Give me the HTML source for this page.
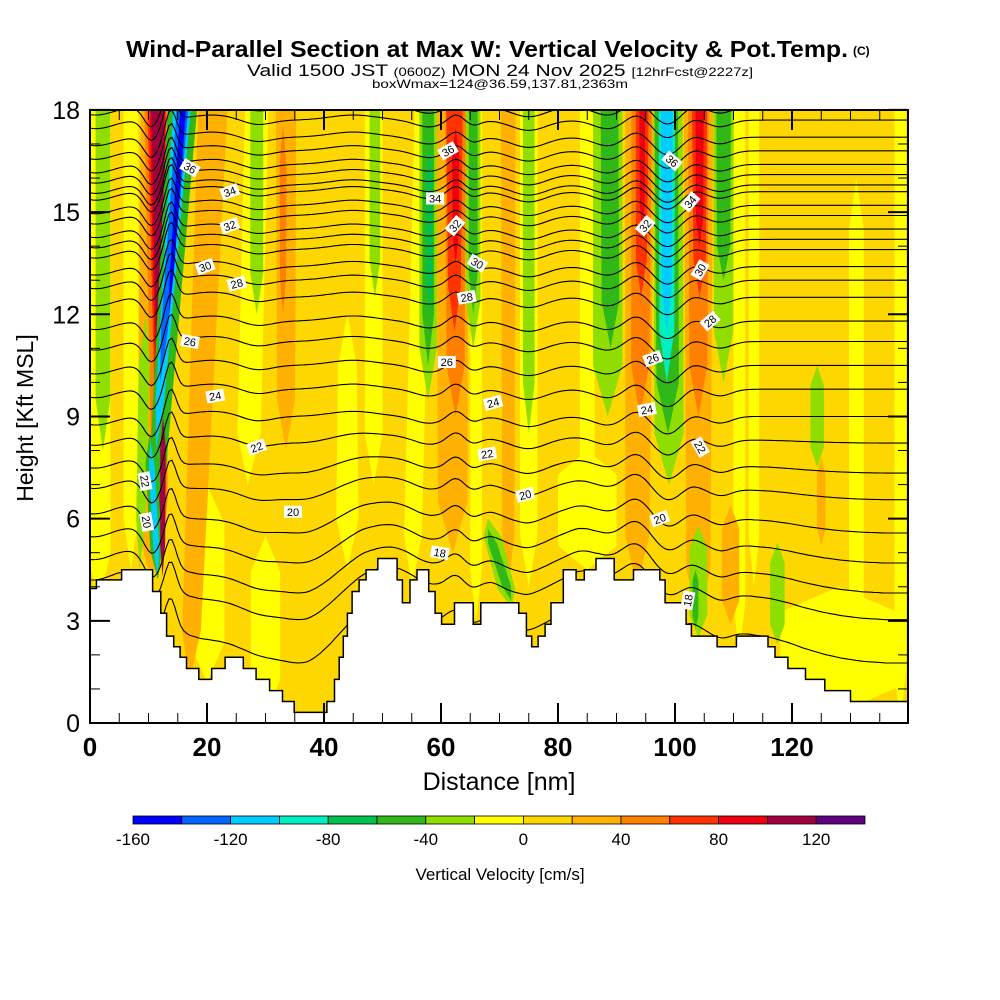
<!DOCTYPE html>
<html><head><meta charset="utf-8"><style>
html,body{margin:0;padding:0;background:#fff;}
svg{display:block;font-family:"Liberation Sans",sans-serif;}
</style></head><body>
<svg id="chart" width="1000" height="1000" viewBox="0 0 1000 1000" xmlns="http://www.w3.org/2000/svg">
<defs><clipPath id="plotclip"><rect x="90" y="110" width="818" height="613"/></clipPath></defs>
<g>
<text x="126" y="57" font-size="23" font-weight="bold" textLength="722" lengthAdjust="spacingAndGlyphs">Wind-Parallel Section at Max W: Vertical Velocity &amp; Pot.Temp.</text>
<text x="853" y="55" font-size="12" font-weight="bold">(C)</text>
<text x="247" y="76" font-size="17" textLength="506" lengthAdjust="spacingAndGlyphs">Valid 1500 JST <tspan font-size="12">(0600Z)</tspan> MON 24 Nov 2025 <tspan font-size="12">[12hrFcst@2227z]</tspan></text>
<text x="372" y="88" font-size="12" textLength="256" lengthAdjust="spacingAndGlyphs">boxWmax=124@36.59,137.81,2363m</text>
</g>
<g id="plot" clip-path="url(#plotclip)"></g>
<g id="axes"></g>
<g id="cbar"></g>
<text x="499" y="790" font-size="25" text-anchor="middle">Distance [nm]</text>
<text transform="translate(33,418) rotate(-90)" font-size="23" text-anchor="middle">Height [Kft MSL]</text>
<text x="500" y="880" font-size="17" text-anchor="middle">Vertical Velocity [cm/s]</text>
</svg>
<script>
// ---- data ----
const binEdges = [-160,-140,-120,-100,-80,-60,-40,-20,0,20,40,60,80,100,120,140];
const binColors = ["#0000ff","#0066ff","#00ccff","#00eec0","#00c050","#30b818","#90dd00","#ffff00","#ffd700","#ffb000","#ff8000","#ff3300","#ee0010","#a00040","#600080"];
const cbarTickValues = [-160,-120,-80,-40,0,40,80,120];
const xTickValues = [0,20,40,60,80,100,120];
const yTickValues = [0,3,6,9,12,15,18];
const backgroundW = 10;
// w bands: [bottomCenterNm, topCenterNm, bottomWidthNm, topWidthNm, bottomKft, topKft, w cm/s]
const wBands = [
 [1.5,1.5,4,4,3.5,18,-10],[7,7,2.5,2.5,4.5,18,-10],[27,28.5,4,4,7,18,-10],[20,20,6,6,1.2,7,-10],
 [30,30,5,5,0.2,5.5,-10],[44,44,4,3,4.5,12,-10],[48.5,48.5,3,3,7,18,-10],[55,57,3,3,4,18,-10],
 [66,66,2,2,3,18,-10],[75,75,3,3,4,18,-10],[85,85,2.5,2.5,5,18,-10],[111,111,2,2,2,18,-10],
 [113.5,113.5,1.8,1.8,4,18,-10],[131,131,2.5,2.5,0,16,-10],[138.5,138.5,2,2,0,18,-10],[128,128,20,20,0.3,4,-10],[85,85,10,10,4.5,8,-10],
 [10.5,11.2,5,5,4.2,18,30],[17,21,3,5,1.2,18,30],[33.5,33.5,3,3.5,8,18,30],[62,62,5,5.5,5,18,30],
 [71.5,71.5,2,2.5,4,18,30],[93.5,94,4,5,4,18,30],[104,104,4,5,3,18,30],[109.5,109.5,3,3,2.9,6.4,30],[125,125,1.5,1.5,5.2,7.8,30],
 [12,11.3,2.5,4,5,18,50],[62.5,62.5,3,3.5,9,18,50],[94,94.3,3,3.5,9,18,50],[104,104,3,3.5,9,18,50],[33,33,1,1.2,12,17.5,50],
 [12.3,11.4,1.8,3.2,7,18,70],[62.3,62.3,2,2.8,11.5,18,70],[94.2,94.4,1.8,2.2,12.5,18,70],[104.2,104.2,2,2.6,12.5,18,70],
 [12.3,11.5,1.3,2.6,6,18,90],[62.5,62.5,1,1.2,13.5,17.5,90],[104.2,104.2,1.2,1.4,14,18,90],[94.4,94.4,0.8,1,14.5,18,90],
 [12.4,11.6,0.8,2.2,5,18,110],
 [2.2,2.2,2.5,2.5,8,18,-30],[28.5,28.5,2.2,2.2,12,18,-30],[48.7,48.7,1.8,1.8,12.5,18,-30],[8.5,9.5,1.5,2,4.5,12,-30],
 [57.8,57.8,3,3,9.5,18,-30],[57.8,57.8,2,2,10.5,18,-50],[58,58,1,1,12,17,-70],
 [65.5,65.5,2.5,2.5,11,18,-30],[65.5,65.5,1.5,1.5,12,18,-50],[75,75,2,2,8.5,18,-30],
 [88.5,88.5,5,5,9,18,-30],[89,88.8,3,3,11,18,-50],
 [99,98.8,5,5,7,18,-30],[98.8,98.5,3.8,4,8.5,18,-50],[98.6,98.6,2.5,2.8,10,18,-90],[98.6,98.6,1.6,2,11.5,18,-110],
 [108.3,108.3,3.2,3.5,10,18,-30],[108.3,108.3,2.2,2.5,13,18,-50],
 [72,68,3,3,3.4,6,-30],[72,68,1.5,1.5,3.6,5.7,-50],[104,104,3,3,2.5,5.8,-30],[103.5,103.5,1,1,2.8,4.5,-50],
 [117.5,117.5,2.5,2.5,2.3,5.3,-30],[124.3,124.3,2.3,2.3,7.5,10.5,-30],
 [11,15.8,2.5,5,6,18,-50],[11.3,15.7,1.2,3,8,18,-110],[12,15.8,1,2,10,18,-130],[13.5,15.9,0.6,1,12,18,-150],
 [11.6,10.2,2,2,4.2,8.5,-50],[11.6,10.3,1,1,4.3,8.3,-110],[12.4,12.5,0.8,1,4.3,9,110]
];
// terrain step profile: start nm and height kft
const terrainStartNm = [0,1.1,5.4,10.7,12.1,13.1,14.3,15.4,16.5,18.6,20.8,23.1,26.2,28.4,30.7,32.9,34.9,40.5,41.8,42.6,43.3,44.0,44.8,46.0,47.2,49.2,52.5,53.4,54.7,55.9,57.9,59.0,60.1,62.3,65.5,66.8,73.3,74.6,75.5,76.6,77.8,78.8,80.9,83.1,84.5,86.5,89.6,92.9,97.4,98.3,101.9,102.8,107.2,110.5,115.9,117.1,119.3,122.3,125.6,130.0];
const terrainKft = [3.95,4.2,4.5,3.86,3.22,2.55,2.24,1.93,1.6,1.28,1.6,1.93,1.6,1.28,0.95,0.63,0.31,0.63,1.28,1.93,2.55,3.22,3.86,4.2,4.5,4.83,4.2,3.53,4.2,4.5,3.86,3.22,2.9,3.53,2.9,3.53,3.22,2.55,2.24,2.55,2.9,3.53,4.5,4.2,4.5,4.83,4.2,4.5,4.2,3.53,2.9,2.55,2.24,2.55,2.24,1.93,1.6,1.28,0.95,0.63];
// isentrope base heights (kft)
const thetaBaseKft = [18.1,17.7,17.2,16.8,16.4,16.1,15.8,15.6,15.2,14.9,14.5,14.2,13.9,13.4,13.0,12.5,11.8,11.2,10.5,9.8,9.0,8.2,7.3,6.5,5.5,4.6,3.7,2.9,1.6];
// perturbations: [centerNm, sigmaNm, ampKft]
const thetaBumps = [[1,3,-0.25],[13.8,0.9,0.8],[10.5,1.3,-0.6],[21,4,0.15],[28.5,2.5,-0.15],[45,4,0.15],[58,2.5,-0.2],[62.5,1.3,0.2],[65.5,1.3,-0.15],[88.5,2.5,-0.25],[93.5,1.8,0.25],[98.5,1.8,-0.2],[103,1.8,0.25],[108,1.8,-0.15],[75,3,-0.3],[100,4,-0.35]];
// contour labels: [nm, kft, text, rotation]
const labelNm = [17.1,23.9,23.9,19.7,25.1,17.1,21.4,28.5,9.4,9.7,34.7,61.2,59.0,62.4,66.2,64.4,61.0,68.9,67.9,74.4,59.8,99.5,102.6,94.9,104.3,106.0,96.2,95.2,104.3,97.4,102.2];
const labelKft = [16.3,15.6,14.6,13.4,12.9,11.2,9.6,8.1,7.1,5.9,6.2,16.8,15.4,14.6,13.5,12.5,10.6,9.4,7.9,6.7,5.0,16.5,15.3,14.6,13.3,11.8,10.7,9.2,8.1,6.0,3.6];
const labelText = ["36","34","32","30","28","26","24","22","22","20","20","36","34","32","30","28","26","24","22","20","18","36","34","32","30","28","26","24","22","20","18"];
const labelRot = [30,-20,-20,-20,-15,10,-10,-20,80,80,0,-30,0,-50,30,-10,0,-15,-10,-15,10,40,-50,-50,-60,-40,-20,-10,60,-20,-80];

// ---- scales ----
const X0=90,X1=908,Y0=723,Y1=110, NM_MAX=(908-90)/5.85;
const xs = nm => X0 + nm*5.85;
const ys = k => Y0 - k*34.06;
const NS="http://www.w3.org/2000/svg";
function mk(tag, attrs, parent){const e=document.createElementNS(NS,tag);for(const k in attrs)e.setAttribute(k,attrs[k]);parent.appendChild(e);return e;}
function colorFor(v){let i=Math.floor((v-binEdges[0])/20);i=Math.max(0,Math.min(binColors.length-1,i));return binColors[i];}
function terrainAt(nm){let h=terrainKft[0];for(let i=0;i<terrainStartNm.length;i++){if(nm>=terrainStartNm[i])h=terrainKft[i];}return h;}
function terrainSmooth(nm){let s=0,n=0;for(let d=-6;d<=6;d+=0.5){s+=terrainAt(Math.max(0,nm+d));n++;}return s/n;}

const plot=document.getElementById('plot');
const bg=mk('rect',{x:X0,y:Y1,width:X1-X0,height:Y0-Y1,fill:colorFor(backgroundW)},plot);



// bands
wBands.forEach((b,i)=>{
 const [xb,xt,wb,wt,kb,kt,v]=b;
 const taper=Math.min(1.5,(kt-kb)*0.2);
 const pts=[];
 const cx=k=>xb+(xt-xb)*(k-kb)/(kt-kb);
 const ww=k=>wb+(wt-wb)*(k-kb)/(kt-kb);
 pts.push([cx(kb),kb]);
 const ka=kb+taper, kz = kt>=18 ? 18.5 : kt-taper;
 pts.push([cx(ka)-ww(ka)/2,ka]);
 pts.push([cx(kz)-ww(kz)/2,kz]);
 if(kt<18){pts.push([cx(kt),kt]);}
 pts.push([cx(kz)+ww(kz)/2,kz]);
 pts.push([cx(ka)+ww(ka)/2,ka]);
 const p=mk('polygon',{points:pts.map(q=>xs(q[0]).toFixed(1)+','+ys(q[1]).toFixed(1)).join(' '),fill:colorFor(v)},plot);
 
 
});

// isentropes
thetaBaseKft.forEach((base,i)=>{
 const pts=[];
 for(let nm=0;nm<=NM_MAX+0.5;nm+=0.5){
  let h=base;
  thetaBumps.forEach(bp=>{h+=bp[2]*Math.exp(-((nm-bp[0])**2)/(2*bp[1]*bp[1]));});
  const f=Math.max(0,1-base/9)*0.6;
  h+=f*(terrainSmooth(nm)-0.3);
  pts.push(xs(nm).toFixed(1)+','+ys(h).toFixed(1));
 }
 const l=mk('polyline',{points:pts.join(' '),fill:'none',stroke:'#000','stroke-width':1.1},plot);
 
 
});

// terrain
{
 let d='M'+xs(0)+','+ys(0);
 for(let i=0;i<terrainStartNm.length;i++){
  const x0=xs(terrainStartNm[i]);
  const x1=xs(i+1<terrainStartNm.length?terrainStartNm[i+1]:NM_MAX+1);
  d+=' L'+x0.toFixed(1)+','+ys(terrainKft[i]).toFixed(1)+' L'+x1.toFixed(1)+','+ys(terrainKft[i]).toFixed(1);
 }
 d+=' L'+xs(NM_MAX+1)+','+ys(0)+' Z';
 const t=mk('path',{d:d,fill:'#fff',stroke:'#000','stroke-width':1.5},plot);
 
 
}

// contour labels
labelText.forEach((txt,i)=>{
 const g=mk('g',{transform:'translate('+xs(labelNm[i]).toFixed(1)+','+ys(labelKft[i]).toFixed(1)+') rotate('+labelRot[i]+')'},plot);
 
 
 mk('rect',{x:-9,y:-6,width:18,height:12,fill:'#fff'},g);
 mk('text',{x:0,y:4,'font-size':11,'text-anchor':'middle',fill:'#000'},g).textContent=txt;
});

// axes
const ax=document.getElementById('axes');
const frame=mk('rect',{x:X0,y:Y1,width:X1-X0,height:Y0-Y1,fill:'none',stroke:'#000','stroke-width':2},ax);


for(let nm=0;nm<=NM_MAX;nm+=5){
 const major=nm%20===0, L=major?20:10, x=xs(nm);
 const a=mk('line',{x1:x,y1:Y0,x2:x,y2:Y0-L,stroke:'#000','stroke-width':major?2:1},ax);
 
 
 const b=mk('line',{x1:x,y1:Y1,x2:x,y2:Y1+L,stroke:'#000','stroke-width':major?2:1},ax);
 
 
}
xTickValues.forEach(v=>{
 const t=mk('text',{x:xs(v),y:756,'font-size':26,'font-weight':'bold','text-anchor':'middle'},ax);
 
 
 t.textContent=v;
});
for(let k=0;k<=18;k++){
 const major=k%3===0, L=major?20:10, y=ys(k);
 const a=mk('line',{x1:X0,y1:y,x2:X0+L,y2:y,stroke:'#000','stroke-width':major?2:1},ax);
 
 
 const b=mk('line',{x1:X1,y1:y,x2:X1-L,y2:y,stroke:'#000','stroke-width':major?2:1},ax);
 
 
}
yTickValues.forEach(v=>{
 const t=mk('text',{x:80,y:ys(v)+9,'font-size':25,'text-anchor':'end'},ax);
 
 
 t.textContent=v;
});

// colorbar
const cb=document.getElementById('cbar');
const CB0=133,CB1=865,bw=(CB1-CB0)/binColors.length;
binColors.forEach((c,i)=>{
 const r=mk('rect',{x:(CB0+i*bw).toFixed(1),y:816,width:bw.toFixed(1),height:8,fill:c,stroke:'#000','stroke-width':0.8},cb);
 
 
});
cbarTickValues.forEach(v=>{
 const x=CB0+(v-binEdges[0])/20*bw;
 const t=mk('text',{x:x.toFixed(1),y:845,'font-size':17,'text-anchor':'middle'},cb);
 
 
 t.textContent=v;
});
</script>
</body></html>
